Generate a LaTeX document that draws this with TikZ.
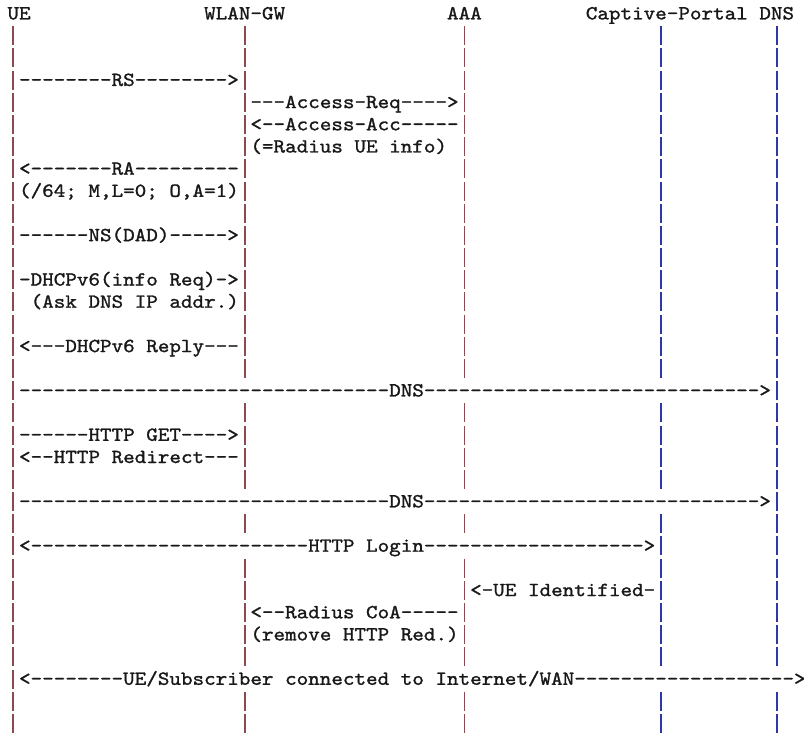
\documentclass[tikz,border=0pt]{standalone}
\usepackage{fontspec}
\setmonofont[FakeBold=1.2]{lmmono10-regular.otf}
\definecolor{barL}{RGB}{138,74,80}
\definecolor{barR}{RGB}{44,56,165}
\definecolor{ink}{RGB}{24,24,24}
\ExplSyntaxOn
\cs_new:Npn \dsh #1 { \prg_replicate:nn {#1} {-} }
\ExplSyntaxOff
% place a run of text at column #2 of row #3
\newcommand{\asciirow}[4]{\node[txt] (#1) at ({7.5+11.567*#2},{19.4+22.18*#3}) {\scalebox{1.1016}[1]{#4}};}
\begin{document}
\begin{tikzpicture}[x=0.75pt,y=-0.75pt,
  txt/.style={anchor=base west,inner sep=0pt,outer sep=0pt,text=ink,
    font=\ttfamily\fontsize{15pt}{18pt}\selectfont},
  barl/.style={draw=barL,line width=1.3pt},
  barr/.style={draw=barR,line width=1.3pt}]
\useasboundingbox (0,0) rectangle (804,733);
% lifelines (ASCII bars)
\foreach \n in {1,...,32}
  \draw[barl] (13.3,{13.6+22.18*\n-9.5}) -- ++(0,19);
\foreach \n in {1,...,16,18,19,20,21,23,25,26,27,28,29,31,32}{
  \draw[barl] ({13.3+11.567*20},{13.6+22.18*\n-9.5}) -- ++(0,19);
  \draw[barl] ({13.3+11.567*39},{13.6+22.18*\n-9.5}) -- ++(0,19);
}
\foreach \n in {1,...,16,18,19,20,21,23,24,25,26,27,28,29,31,32}
  \draw[barr] ({13.3+11.567*56},{13.6+22.18*\n-9.5}) -- ++(0,19);
\foreach \n in {1,...,29,31,32}
  \draw[barr] ({13.3+11.567*66},{13.6+22.18*\n-9.5}) -- ++(0,19);
% header
\asciirow{ue}{0}{0}{UE}
\asciirow{gw}{17}{0}{WLAN-GW}
\asciirow{aaa}{38}{0}{AAA}
\asciirow{cpdns}{50}{0}{Captive-Portal DNS}
% messages
\asciirow{rs}{1}{3}{\dsh{8}RS\dsh{8}>}
\asciirow{areq}{21}{4}{---Access-Req---->}
\asciirow{aacc}{21}{5}{<--Access-Acc-----}
\asciirow{rinfo}{21}{6}{(=Radius UE info)}
\asciirow{ra}{1}{7}{<\dsh{7}RA\dsh{9}}
\asciirow{raopt}{1}{8}{(/64; M,L=0; O,A=1)}
\asciirow{ns}{1}{10}{\dsh{6}NS(DAD)\dsh{5}>}
\asciirow{dreq}{1}{12}{-DHCPv6(info Req)->}
\asciirow{dask}{2}{13}{(Ask DNS IP addr.)}
\asciirow{drep}{1}{15}{<---DHCPv6 Reply---}
\asciirow{dnsa}{1}{17}{\dsh{32}DNS\dsh{29}>}
\asciirow{hget}{1}{19}{\dsh{6}HTTP GET\dsh{4}>}
\asciirow{hred}{1}{20}{<--HTTP Redirect---}
\asciirow{dnsb}{1}{22}{\dsh{32}DNS\dsh{29}>}
\asciirow{login}{1}{24}{<\dsh{24}HTTP Login\dsh{19}>}
\asciirow{ueid}{40}{26}{<-UE Identified-}
\asciirow{coa}{21}{27}{<--Radius CoA-----}
\asciirow{rmred}{21}{28}{(remove HTTP Red.)}
\asciirow{conn}{1}{30}{<\dsh{8}UE/Subscriber connected to Internet/WAN\dsh{19}>}
\end{tikzpicture}
\end{document}
